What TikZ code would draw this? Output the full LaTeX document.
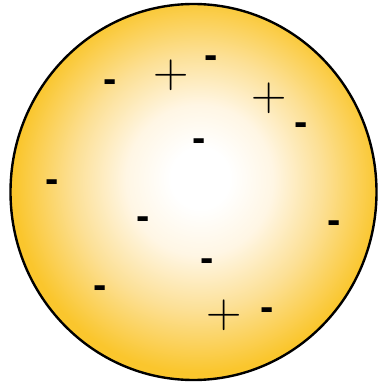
\documentclass[tikz,border=0pt]{standalone}
\usepackage{fontspec}
\newfontfamily\signfont{Liberation Sans}
\definecolor{ballgold}{RGB}{250,198,45}
\definecolor{ballmid}{RGB}{252,224,150}
\definecolor{ballpale}{RGB}{255,246,228}
\pgfdeclareradialshading{ballshade}{\pgfpoint{1bp}{2bp}}{%
  color(0bp)=(white); color(4bp)=(white); color(10bp)=(ballpale); color(17bp)=(ballmid); color(25bp)=(ballgold); color(50bp)=(ballgold)}
\tikzset{
  minus/.style={inner sep=0pt, yshift=-4pt, font=\signfont\bfseries\fontsize{40}{40}\selectfont},
  plus/.style={inner sep=0pt, font=\fontsize{49}{49}\selectfont},
}
\begin{document}
\begin{tikzpicture}[x=1pt,y=-1pt]
\useasboundingbox (0,0) rectangle (378,382);
\path[shading=ballshade] (193.5,192) ellipse [x radius=183, y radius=188];
\draw[line width=2.4pt] (193.5,192) ellipse [x radius=183, y radius=188];
\node[minus] (m1) at (110.5,82) {-};
\node[plus]  (p1) at (171,75) {+};
\node[minus] (m2) at (211,58) {-};
\node[plus]  (p2) at (269,98) {+};
\node[minus] (m3) at (301,125) {-};
\node[minus] (m4) at (199,141) {-};
\node[minus] (m5) at (52,182) {-};
\node[minus] (m6) at (143,219) {-};
\node[minus] (m7) at (334,223) {-};
\node[minus] (m8) at (207,261) {-};
\node[minus] (m9) at (100,288) {-};
\node[plus]  (p3) at (224,315) {+};
\node[minus] (m10) at (267,310) {-};
\end{tikzpicture}
\end{document}
